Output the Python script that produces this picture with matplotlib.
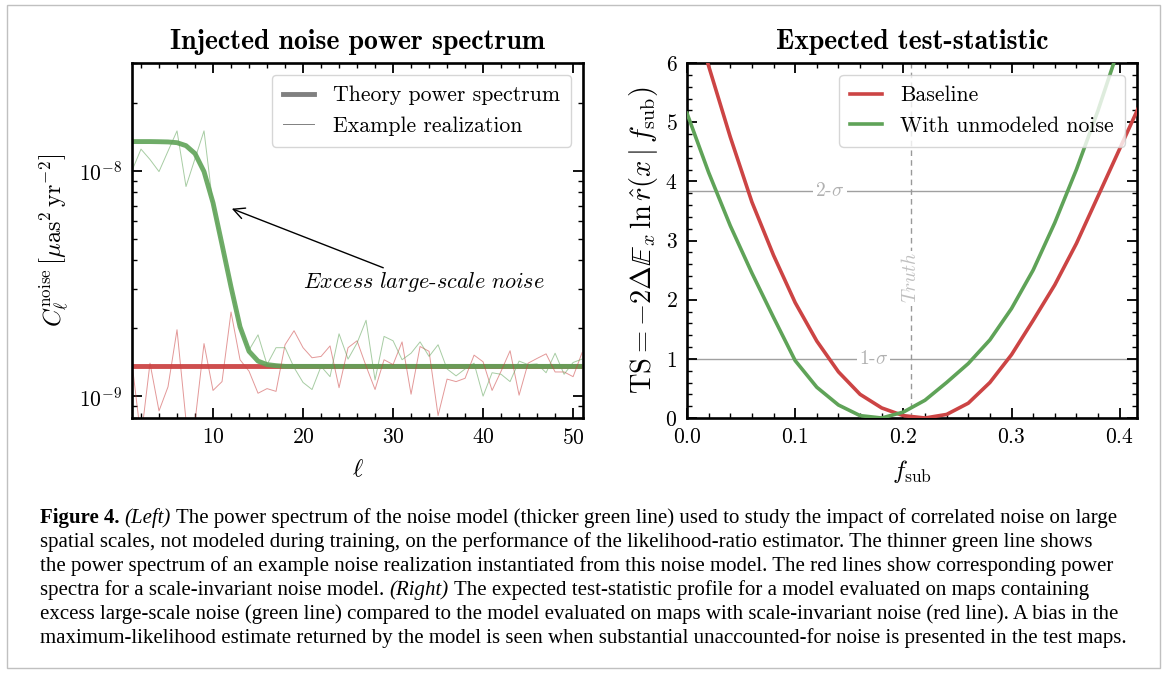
import numpy as np
import matplotlib
matplotlib.use('Agg')
import matplotlib.pyplot as plt
from matplotlib.ticker import MultipleLocator, LogLocator, NullFormatter, FixedLocator
from matplotlib.patches import Rectangle
from matplotlib.font_manager import FontProperties

plt.rcParams['font.family'] = 'serif'
plt.rcParams['font.serif'] = ['cmr10']
plt.rcParams['mathtext.fontset'] = 'cm'
plt.rcParams['axes.formatter.use_mathtext'] = True

# ---------------- data: left panel (power spectra) ----------------
ell = np.arange(1, 52)

theory_excess = [1.345e-8, 1.345e-8, 1.345e-8, 1.343e-8, 1.34e-8, 1.33e-8, 1.29e-8, 1.19e-8,
                 9.9e-9, 7.2e-9, 4.7e-9, 3.05e-9, 2.03e-9, 1.58e-9, 1.43e-9, 1.38e-9, 1.365e-9] \
                + [1.355e-9] * 34
theory_flat = [1.355e-9] * 51

real_excess = [1.0e-8, 1.245e-8, 1.12e-8, 9.9e-9, 1.22e-8, 1.5e-8, 8.5e-9, 1.13e-8, 1.5e-8, 7.0e-9,
               4.6e-9, 3.1e-9, 2.0e-9, 1.6e-9, 1.87e-9, 1.38e-9, 1.64e-9, 1.64e-9, 1.34e-9, 1.15e-9,
               1.07e-9, 1.355e-9, 1.22e-9, 1.89e-9, 1.46e-9, 1.72e-9, 2.17e-9, 1.18e-9, 1.84e-9, 1.76e-9,
               1.45e-9, 1.55e-9, 1.74e-9, 1.50e-9, 1.69e-9, 1.32e-9, 1.23e-9, 1.32e-9, 1.40e-9, 1.0e-9,
               1.27e-9, 1.25e-9, 1.16e-9, 1.43e-9, 1.38e-9, 1.39e-9, 1.27e-9, 1.55e-9, 1.25e-9, 1.41e-9,
               1.46e-9]
real_flat = [1.4e-9, 6.5e-10, 1.40e-9, 8.6e-10, 1.1e-9, 1.97e-9, 7.8e-10, 7.7e-10, 1.71e-9, 1.06e-9,
             1.16e-9, 2.36e-9, 1.45e-9, 1.29e-9, 1.03e-9, 1.08e-9, 1.05e-9, 1.69e-9, 1.95e-9, 1.64e-9,
             1.48e-9, 1.5e-9, 1.67e-9, 1.09e-9, 1.64e-9, 1.76e-9, 1.36e-9, 1.07e-9, 1.45e-9, 1.38e-9,
             1.74e-9, 1.02e-9, 1.66e-9, 1.58e-9, 8.2e-10, 1.19e-9, 1.16e-9, 1.2e-9, 1.52e-9, 1.42e-9,
             1.06e-9, 1.29e-9, 1.59e-9, 1.01e-9, 1.4e-9, 1.47e-9, 1.54e-9, 1.28e-9, 1.28e-9, 1.22e-9,
             1.56e-9]
major_c = [1e-9, 1e-8]

# ---------------- data: right panel (test statistic) ----------------
f_sub = [0.00, 0.02, 0.04, 0.06, 0.08, 0.10, 0.12, 0.14, 0.16, 0.18, 0.20,
         0.22, 0.24, 0.26, 0.28, 0.30, 0.32, 0.34, 0.36, 0.38, 0.40, 0.42]
ts_baseline = [7.2, 5.95, 4.75, 3.65, 2.75, 1.95, 1.3, 0.78, 0.4, 0.17, 0.04,
               0.0, 0.06, 0.25, 0.6, 1.07, 1.65, 2.25, 2.95, 3.75, 4.55, 5.35]
ts_noise = [5.15, 4.15, 3.25, 2.45, 1.7, 0.97, 0.52, 0.22, 0.04, 0.0, 0.1,
            0.3, 0.6, 0.92, 1.32, 1.85, 2.5, 3.3, 4.2, 5.2, 6.3, 7.4]
f_truth = 0.207
sigma_levels = [1.0, 3.84]
sigma_labels = [r'1-$\sigma$', r'2-$\sigma$']
sigma_label_x = [0.1725, 0.132]

RED = '#cc4444'
GREEN = '#5fa358'
GRAY_LINE = '#a0a0a0'

W, H = 1167, 675
fig = plt.figure(figsize=(W / 100, H / 100), dpi=100)
fig.patch.set_facecolor('white')
fig.patches.append(Rectangle((7 / W, 1 - 668 / H), 1153 / W, 663 / H, transform=fig.transFigure,
                             fill=False, edgecolor='#c0c0c0', lw=1.0))

ax1 = fig.add_axes([132 / W, 1 - 418 / H, 451 / W, 355 / H])
ax2 = fig.add_axes([687 / W, 1 - 418 / H, 450 / W, 355 / H])


def style_axes(ax):
    for s in ax.spines.values():
        s.set_linewidth(1.9)
    ax.tick_params(which='both', direction='in', top=True, right=True, labelsize=15.5)
    ax.tick_params(which='major', length=7, width=1.3, pad=7)
    ax.tick_params(which='minor', length=3.5, width=1.0)


# ---------------- left panel ----------------
ax1.plot(ell, theory_flat, color=RED, lw=3.5, alpha=0.95, solid_capstyle='butt')
ax1.plot(ell, theory_excess, color=GREEN, lw=3.5, alpha=0.9, solid_capstyle='butt')
ax1.plot(ell, real_flat, color=RED, lw=0.7, alpha=0.55)
ax1.plot(ell, real_excess, color=GREEN, lw=0.7, alpha=0.55)
ax1.set_yscale('log')
ax1.set_xlim(1, 51.1)
ax1.set_ylim(8e-10, 3e-8)
ax1.xaxis.set_major_locator(MultipleLocator(10))
ax1.xaxis.set_minor_locator(MultipleLocator(2))
ax1.yaxis.set_major_locator(FixedLocator(major_c))
ax1.yaxis.set_minor_locator(LogLocator(base=10, subs=np.arange(2, 10), numticks=10))
ax1.yaxis.set_minor_formatter(NullFormatter())
style_axes(ax1)
ax1.set_xlabel(r'$\ell$', fontsize=18, labelpad=8)
ax1.set_ylabel(r'$C_\ell^\mathrm{noise}\,\left[\mu\mathrm{as}^2\,\mathrm{yr}^{-2}\right]$', fontsize=17.5, labelpad=6)
ax1.set_title('Injected noise power spectrum', fontsize=20, family='cmb10', pad=10)

h1, = ax1.plot([], [], color='#808080', lw=3.5)
h2, = ax1.plot([], [], color='#808080', lw=0.7)
leg_kw = dict(loc='upper right', fontsize=15.7, frameon=True, fancybox=True, framealpha=0.8,
              edgecolor='#cccccc', borderaxespad=0.55, handlelength=1.45, handletextpad=0.85,
              labelspacing=0.5, borderpad=0.5)
leg1 = ax1.legend([h1, h2], ['Theory power spectrum', 'Example realization'], **leg_kw)
leg1.get_frame().set_linewidth(1.0)

ax1.annotate('', xy=(11.8, 6.85e-9), xytext=(29.2, 3.67e-9),
             arrowprops=dict(arrowstyle='->', color='black', lw=1.0, mutation_scale=20))
ax1.text(33.4, 3.2e-9, r'$\mathit{Excess\ large}$-$\mathit{scale\ noise}$', fontsize=16,
         ha='center', va='center')

# ---------------- right panel ----------------
for lev, lab, lx in zip(sigma_levels, sigma_labels, sigma_label_x):
    ax2.axhline(lev, color=GRAY_LINE, lw=1.0, zorder=1)
    ax2.text(lx, lev, lab, fontsize=14, color='#b0b0b0', ha='center', va='center', zorder=2,
             bbox=dict(facecolor='white', edgecolor='none', pad=1.5))
ax2.axvline(f_truth, color='#999999', lw=1.0, ls=(0, (4, 3)), zorder=1)
ax2.text(f_truth, 2.37, r'$Truth$', fontsize=14, color='#c0c0c0', rotation=90, ha='center',
         va='center', zorder=2, bbox=dict(facecolor='white', edgecolor='none', pad=1.0))

ax2.plot(f_sub, ts_baseline, color=RED, lw=2.6, label='Baseline', zorder=3)
ax2.plot(f_sub, ts_noise, color=GREEN, lw=2.6, label='With unmodeled noise', zorder=3)
ax2.set_xlim(0, 0.416)
ax2.set_ylim(0, 6)
ax2.xaxis.set_major_locator(MultipleLocator(0.1))
ax2.xaxis.set_minor_locator(MultipleLocator(0.02))
ax2.yaxis.set_major_locator(MultipleLocator(1))
ax2.yaxis.set_minor_locator(MultipleLocator(0.2))
style_axes(ax2)
ax2.set_xlabel(r'$f_\mathrm{sub}$', fontsize=18, labelpad=8)
ax2.set_ylabel(r'$\mathrm{TS} = -2\Delta\mathbb{E}_x\,\ln\hat{r}(x\mid f_\mathrm{sub})$', fontsize=20.5, labelpad=4)
ax2.set_title('Expected test-statistic', fontsize=20, family='cmb10', pad=10)
leg2 = ax2.legend(**leg_kw)
leg2.get_frame().set_linewidth(1.0)

# ---------------- caption ----------------
caption = [
    [('Figure 4.', 'bold', 'normal'), ('(Left)', 'normal', 'italic'),
     ('The power spectrum of the noise model (thicker green line) used to study the impact of correlated noise on large', 'normal', 'normal')],
    [('spatial scales, not modeled during training, on the performance of the likelihood-ratio estimator. The thinner green line shows', 'normal', 'normal')],
    [('the power spectrum of an example noise realization instantiated from this noise model. The red lines show corresponding power', 'normal', 'normal')],
    [('spectra for a scale-invariant noise model.', 'normal', 'normal'), ('(Right)', 'normal', 'italic'),
     ('The expected test-statistic profile for a model evaluated on maps containing', 'normal', 'normal')],
    [('excess large-scale noise (green line) compared to the model evaluated on maps with scale-invariant noise (red line). A bias in the', 'normal', 'normal')],
    [('maximum-likelihood estimate returned by the model is seen when substantial unaccounted-for noise is presented in the test maps.', 'normal', 'normal')],
]
cap_size = 15.0
cap_font = 'Liberation Serif'
renderer = fig.canvas.get_renderer()
prop = FontProperties(family=cap_font, size=cap_size)
w_aa = renderer.get_text_width_height_descent('aa', prop, ismath=False)[0]
w_a_a = renderer.get_text_width_height_descent('a a', prop, ismath=False)[0]
space_w = w_a_a - w_aa

x0 = 40
baseline0 = 523
line_gap = 24
for i, segs in enumerate(caption):
    x = x0
    yb = baseline0 + i * line_gap
    for s, weight, style in segs:
        t = fig.text(x / W, 1 - yb / H, s, fontsize=cap_size, family=cap_font, fontweight=weight,
                     fontstyle=style, va='baseline', ha='left')
        x = t.get_window_extent(renderer).x1 + space_w

fig.savefig('out.png', dpi=100)
